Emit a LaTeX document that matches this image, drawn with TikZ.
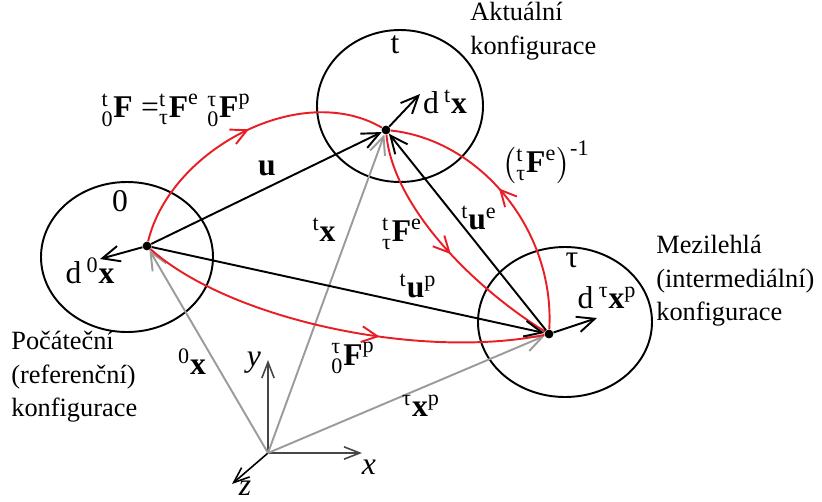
\documentclass[tikz,border=0pt]{standalone}
\usepackage{fontspec}
\setmainfont{LiberationSerif}[Extension=.ttf, UprightFont=*-Regular, BoldFont=*-Bold, ItalicFont=*-Italic, BoldItalicFont=*-BoldItalic]
\usepackage{amsmath}
\usetikzlibrary{arrows.meta, decorations.markings}
\definecolor{arcred}{RGB}{232,30,36}
\definecolor{posgray}{RGB}{155,155,155}
\definecolor{axgray}{RGB}{70,70,70}
\newcommand{\rmtx}[1]{\text{#1}}
\newcommand{\bv}[1]{\textbf{#1}}
\tikzset{
  cfgline/.style={line width=1.1pt},
  vec/.style={line width=1.1pt, -{Straight Barb[length=10pt,width=9pt]}},
  posvec/.style={vec, draw=posgray},
  axis/.style={line width=0.9pt, draw=axgray, -{Straight Barb[length=9pt,width=7pt]}},
  map/.style={line width=1.1pt, draw=arcred, postaction={decorate},
    decoration={markings, mark=at position #1 with {\arrow[arcred]{Straight Barb[length=9pt,width=9pt]}}}},
  dot/.style={circle, fill, inner sep=0pt, minimum size=5pt},
  lab/.style={font=\fontsize{18}{21}\selectfont, inner sep=1pt},
  cfg/.style={font=\fontsize{15}{19}\selectfont, align=left, anchor=west, inner sep=0pt}
}
\begin{document}
\begin{tikzpicture}[x={(0.02cm,0)}, y={(0,-0.02cm)}]
  \useasboundingbox (0,0) rectangle (822,501);
  % configurations
  \draw[cfgline] (127,257) ellipse [x radius=86, y radius=75];
  \draw[cfgline] (400,106) ellipse [x radius=83, y radius=76];
  \draw[cfgline] (565,322) ellipse [x radius=87, y radius=75];
  \node[lab] (n0) at (120,201) {0};
  \node[lab] (nt) at (395,45) {t};
  \node[lab] (ntau) at (572,260) {τ};
  \node[cfg] (akt) at (470,31) {Aktuální\\konfigurace};
  \node[cfg] (mez) at (656,281) {Mezilehlá\\(intermediální)\\konfigurace};
  \node[cfg] (poc) at (11,377) {Počáteční\\(referenční)\\konfigurace};
  % points and origin
  \node[dot] (p0) at (147,246) {};
  \node[dot] (pt) at (386,130) {};
  \node[dot] (ptau) at (549,334) {};
  \coordinate (o) at (268,453);
  \coordinate (ax) at (362,453);
  \coordinate (ay) at (268,360);
  \coordinate (az) at (232,484);
  \draw[axis] (o) -- (ax);
  \draw[axis] (o) -- (ay);
  \draw[line width=0.9pt, -{Straight Barb[length=9pt,width=7pt]}] (o) -- (az);
  \node[lab] (lx) at (369,467) {\textit{x}};
  \node[lab] (ly) at (254,363) {\textit{y}};
  \node[lab] (lz) at (245,488) {\textit{z}};
  % position vectors
  \draw[posvec] (o) -- (p0);
  \draw[posvec] (o) -- (pt);
  \draw[posvec] (o) -- (ptau);
  \node[lab] (l0x) at (192,362) {${}^{\rmtx{0}}\bv{x}$};
  \node[lab] (ltx) at (324,230) {${}^{\rmtx{t}}\bv{x}$};
  \node[lab] (ltaux) at (421,406) {${}^{\rmtx{τ}}\bv{x}^{\rmtx{p}}$};
  % deformation gradients
  \draw[map=0.53] (p0) .. controls (170,150) and (300,80) .. (pt);
  \draw[map=0.6] (p0) .. controls (230,320) and (420,360) .. (ptau);
  \draw[map=0.53] (pt) .. controls (393,205) and (470,285) .. (ptau);
  \draw[map=0.55] (ptau) .. controls (555,230) and (480,140) .. (pt);
  \node[lab] (lF) at (176,110) {${}^{\rmtx{t}}_{\rmtx{0}}\bv{F}\;\rmtx{=}{}^{\rmtx{t}}_{\rmtx{τ}}\bv{F}^{\rmtx{e}}\;{}^{\rmtx{τ}}_{\rmtx{0}}\bv{F}^{\rmtx{p}}$};
  \node[lab] (lFe) at (402,234) {${}^{\rmtx{t}}_{\rmtx{τ}}\bv{F}^{\rmtx{e}}$};
  \node[lab] (lFp) at (353,358) {${}^{\rmtx{τ}}_{\rmtx{0}}\bv{F}^{\rmtx{p}}$};
  \node[lab] (lFi) at (546,162) {$\bigl({}^{\rmtx{t}}_{\rmtx{τ}}\bv{F}^{\rmtx{e}}\bigr)^{\rmtx{-1}}$};
  % displacements
  \draw[vec] (p0) -- (pt);
  \draw[vec] (p0) -- (ptau);
  \draw[vec] (ptau) -- (pt);
  \node[lab] (lu) at (267,168) {$\bv{u}$};
  \node[lab] (lup) at (418,286) {${}^{\rmtx{t}}\bv{u}^{\rmtx{p}}$};
  \node[lab] (lue) at (479,218) {${}^{\rmtx{t}}\bv{u}^{\rmtx{e}}$};
  % line elements
  \coordinate (d0) at (100,259);
  \coordinate (dt) at (420,94);
  \coordinate (dtau) at (597,318);
  \draw[vec] (p0) -- (d0);
  \draw[vec] (pt) -- (dt);
  \draw[vec] (ptau) -- (dtau);
  \node[lab] (ld0) at (90,271) {d\,${}^{\rmtx{0}}\bv{x}$};
  \node[lab] (ldt) at (445,102) {d\,${}^{\rmtx{t}}\bv{x}$};
  \node[lab] (ldtau) at (607,298) {d\,${}^{\rmtx{τ}}\bv{x}^{\rmtx{p}}$};
\end{tikzpicture}
\end{document}
